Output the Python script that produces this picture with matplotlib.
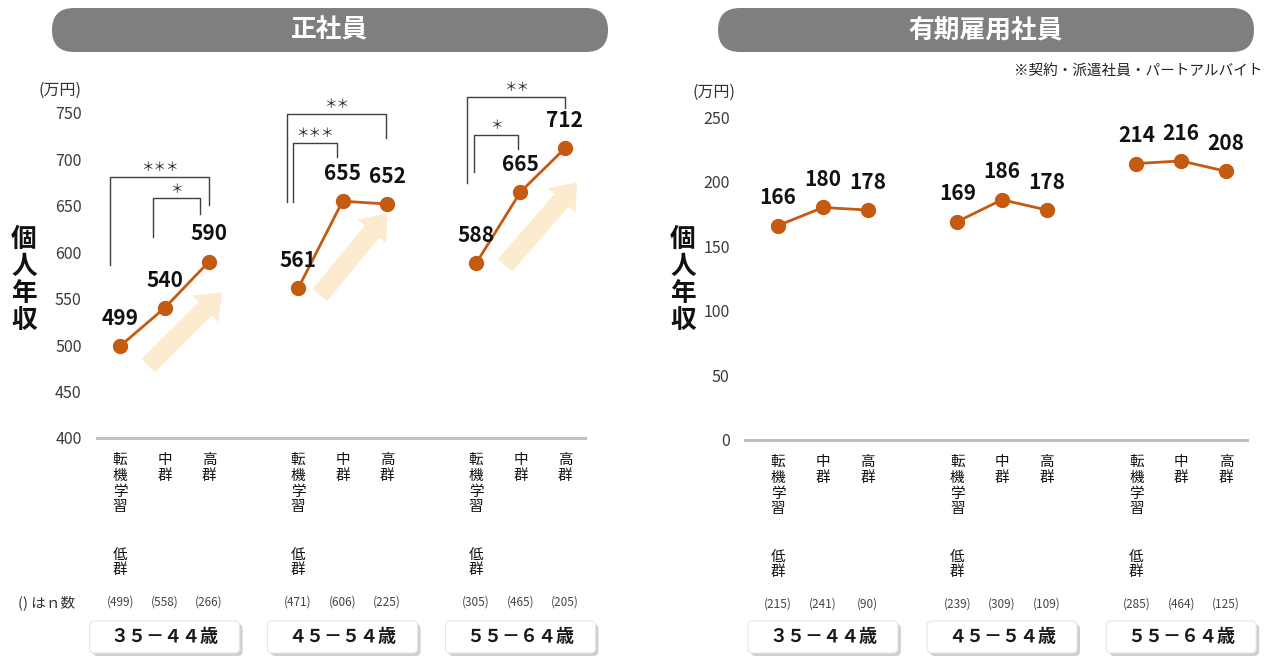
import numpy as np
import matplotlib.pyplot as plt
from matplotlib.patches import FancyBboxPatch, FancyArrowPatch

plt.rcParams['font.family'] = ['Noto Sans CJK JP', 'DejaVu Sans']

# data
level_labels = ['転機学習 低群', '中群', '高群']
age_groups = ['３５－４４歳', '４５－５４歳', '５５－６４歳']
seishain = [499, 540, 590, 561, 655, 652, 588, 665, 712]
yuki = [166, 180, 178, 169, 186, 178, 214, 216, 208]
n_seishain = [499, 558, 266, 471, 606, 225, 305, 465, 205]
n_yuki = [215, 241, 90, 239, 309, 109, 285, 464, 125]
# (group, left idx, right idx, marks)
sig_pairs = [(0, 0, 2, '＊＊＊'), (0, 1, 2, '＊'),
             (1, 0, 2, '＊＊'), (1, 0, 1, '＊＊＊'),
             (2, 0, 2, '＊＊'), (2, 0, 1, '＊')]

# layout of brackets: left dx, right dx, top, left bottom, right bottom
bracket_geo = [(-0.22, 0.0, 681, 586, 651), (-0.26, -0.20, 658, 616, 641),
               (-0.25, -0.02, 749, 654, 723), (-0.11, -0.12, 718, 654, 703),
               (-0.20, 0.0, 767, 675, 755), (-0.04, -0.06, 726, 686, 711)]
# decorative arrows (tail, tip) in data coords
arrow_geo = [((0.63, 478), (2.29, 557)), ((4.49, 554), (6.0, 642)),
             ((8.65, 586), (10.27, 675))]

W, H = 1272, 657
fig = plt.figure(figsize=(W / 100, H / 100), dpi=100)

line_c = '#C55A11'
tick_c = '#3a3a3a'
xpos = [g * 4 + k for g in range(3) for k in range(3)]


def px_rect(x0, y0, x1, y1):
    # top-left origin pixel box -> figure fraction rect
    return [x0 / W, (H - y1) / H, (x1 - x0) / W, (y1 - y0) / H]


def draw_panel(rect, xlim, ylim, yticks, values, ns, title, pill, ylab_x, unit_xy):
    ax = fig.add_axes(rect)
    ax.set_xlim(*xlim)
    ax.set_ylim(*ylim)
    for s in ax.spines.values():
        s.set_visible(False)
    ax.axhline(ylim[0], color='#c0c0c0', lw=2.2, clip_on=False)
    ax.set_xticks([])
    ax.set_yticks(yticks)
    ax.tick_params(axis='y', length=0, pad=11, labelsize=11.5, labelcolor=tick_c)

    for g in range(3):
        xs = xpos[g * 3:g * 3 + 3]
        vs = values[g * 3:g * 3 + 3]
        ax.plot(xs, vs, color=line_c, lw=2, marker='o', ms=10, zorder=3)
        for x, v in zip(xs, vs):
            ax.annotate(str(v), (x, v), xytext=(0, 20), textcoords='offset points',
                        ha='center', va='center', fontsize=15, fontweight='bold',
                        color='#111111', zorder=4)
        for k, x in enumerate(xs):
            parts = level_labels[k].split(' ')
            ax.annotate('\n'.join(parts[0]), (x, 0), xycoords=('data', 'axes fraction'),
                        xytext=(0, -11), textcoords='offset points', ha='center', va='top',
                        fontsize=10.5, linespacing=1.15, color='#111111')
            if len(parts) > 1:
                ax.annotate('\n'.join(parts[1]), (x, 0), xycoords=('data', 'axes fraction'),
                            xytext=(0, -79), textcoords='offset points', ha='center',
                            va='top', fontsize=10.5, linespacing=1.15, color='#111111')
            ax.annotate('(%d)' % ns[g * 3 + k], (x, 0), xycoords=('data', 'axes fraction'),
                        xytext=(0, -118), textcoords='offset points', ha='center',
                        va='center', fontsize=8.5, color='#444444')

        # age group box
        cx = fig.transFigure.inverted().transform(ax.transData.transform((xs[1], 0)))[0] * W
        bx, by, bw, bh = (cx - 75) / 100, (H - 653) / 100, 1.50, 0.32
        shadow = FancyBboxPatch((bx + 0.03, by - 0.03), bw, bh,
                                boxstyle='round,pad=0,rounding_size=0.05',
                                transform=fig.dpi_scale_trans, fc='#b0b0b0', ec='none',
                                alpha=0.6)
        box = FancyBboxPatch((bx, by), bw, bh, boxstyle='round,pad=0,rounding_size=0.05',
                             transform=fig.dpi_scale_trans, fc='white', ec='#e6e6e6', lw=0.8)
        fig.add_artist(shadow)
        fig.add_artist(box)
        fig.text((bx + bw / 2) * 100 / W, (by + bh / 2) * 100 / H, age_groups[g],
                 ha='center', va='center', fontsize=13, fontweight='bold', color='#1a1a1a')

    # header pill
    x0, y0, x1, y1 = pill
    fig.add_artist(FancyBboxPatch((x0 / 100, (H - y1) / 100), (x1 - x0) / 100, (y1 - y0) / 100,
                                  boxstyle='round,pad=0,rounding_size=0.22',
                                  transform=fig.dpi_scale_trans, fc='#7f7f7f', ec='none'))
    fig.text((x0 + x1) / 2 / W, 1 - (y0 + y1) / 2 / H, title, ha='center', va='center',
             fontsize=18.5, fontweight='bold', color='white')

    fig.text(ylab_x / W, 1 - 280 / H, '\n'.join('個人年収'), ha='center', va='center',
             fontsize=18.5, fontweight='bold', linespacing=1.0, color='#111111')
    fig.text(unit_xy[0] / W, 1 - unit_xy[1] / H, '(万円)', ha='left', va='center',
             fontsize=11.5, color='#333333')
    return ax


axL = draw_panel(px_rect(97, 70, 585, 438), (-0.52, 10.45), (400, 796.3),
                 np.arange(400, 751, 50), seishain, n_seishain, '正社員',
                 (52, 8, 608, 52), 24, (38, 90))
axR = draw_panel(px_rect(745, 70, 1247, 440), (-0.74, 10.47), (0, 286.4),
                 np.arange(0, 251, 50), yuki, n_yuki, '有期雇用社員',
                 (718, 8, 1254, 52), 683, (692, 92))

# arrows on left panel
for (tail, tip) in arrow_geo:
    axL.add_patch(FancyArrowPatch(tail, tip,
                                  arrowstyle='simple,head_length=0.85,head_width=1.35,tail_width=0.68',
                                  mutation_scale=20, fc='#FDEBD0', ec='none',
                                  shrinkA=0, shrinkB=0, zorder=1))

# significance brackets
for (g, i, j, marks), (dl, dr, top, lb, rb) in zip(sig_pairs, bracket_geo):
    xl = xpos[g * 3 + i] + dl
    xr = xpos[g * 3 + j] + dr
    axL.plot([xl, xl, xr, xr], [lb, top, top, rb], color='#404040', lw=1, clip_on=False)
    axL.text((xl + xr) / 2, top + 10, marks, ha='center', va='center', fontsize=9,
             color='#222222')

fig.text(18 / W, 1 - 603 / H, '() はｎ数', ha='left', va='center', fontsize=10.5, color='#333333')
fig.text(1262 / W, 1 - 71 / H, '※契約・派遣社員・パートアルバイト', ha='right', va='center',
         fontsize=10.5, color='#222222')

fig.savefig('out.png', dpi=100, facecolor='white')
